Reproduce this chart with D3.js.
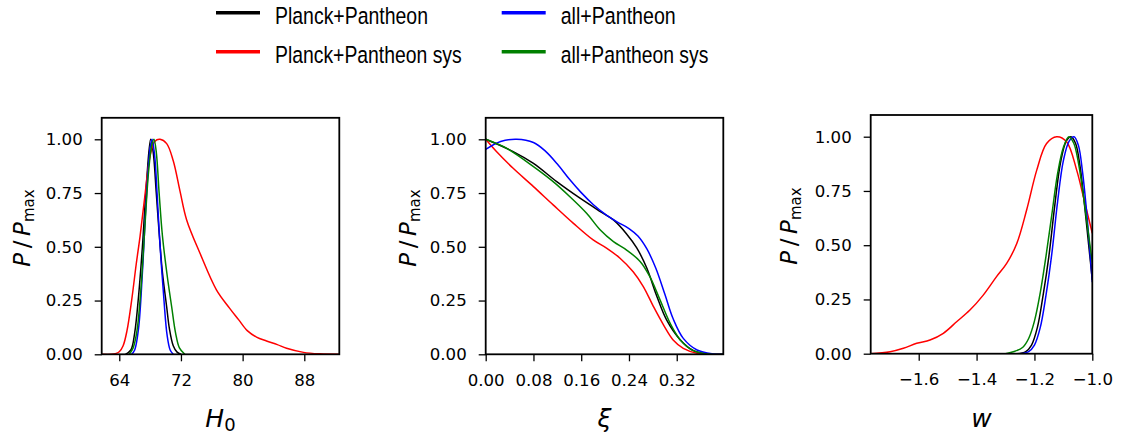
<!DOCTYPE html>
<html>
<head>
<meta charset="utf-8">
<script src="https://cdn.jsdelivr.net/npm/d3@7"></script>
<style>
  body { margin: 0; background: #fff; }
  .tick text, .axis-label { font-family: "DejaVu Sans", sans-serif; fill: #000; }
  .legend-label { font-family: "Liberation Sans Narrow", "Liberation Sans", Arial, sans-serif; fill: #000; }
</style>
</head>
<body>
<svg id="chart"></svg>
<script>
// ---- data ----
const seriesNames = ["Planck+Pantheon", "Planck+Pantheon sys", "all+Pantheon", "all+Pantheon sys"];

const h0Planck = [[64.8,0],[65.5,0.02],[66.0,0.1],[66.5,0.27],[67.0,0.5],[67.5,0.78],[68.07,1.0],[68.4,0.94],[68.8,0.75],[69.2,0.55],[69.6,0.38],[70.15,0.22],[70.5,0.12],[71.0,0.04],[71.5,0.01],[72.0,0]];
const h0PlanckSys = [[61.7,0],[63.0,0],[63.5,0.003],[64.0,0.012],[64.5,0.04],[65.0,0.11],[65.6,0.25],[66.2,0.42],[66.7,0.55],[67.3,0.73],[67.98,0.92],[68.6,0.99],[69.28,1.0],[70.15,0.98],[71.0,0.9],[71.87,0.76],[72.74,0.625],[74.47,0.47],[76.6,0.3],[78.3,0.215],[79.5,0.16],[80.6,0.11],[81.8,0.08],[83.1,0.062],[84.5,0.045],[85.7,0.028],[87.9,0.009],[90.0,0.002],[92.5,0]];
const h0All = [[65.6,0],[66.0,0.02],[66.5,0.12],[67.0,0.38],[67.5,0.72],[68.0,0.96],[68.25,1.0],[68.6,0.92],[68.9,0.75],[69.3,0.5],[69.8,0.25],[70.2,0.09],[70.6,0.02],[71.0,0]];
const h0AllSys = [[65.3,0],[65.8,0.03],[66.3,0.11],[66.8,0.3],[67.3,0.58],[67.8,0.85],[68.2,0.97],[68.5,1.0],[68.8,0.94],[69.17,0.75],[69.6,0.55],[70.2,0.37],[70.8,0.22],[71.3,0.1],[71.8,0.03],[72.5,0]];

const xiPlanck = [[0,1.0],[0.046,0.943],[0.08,0.888],[0.119,0.803],[0.158,0.726],[0.192,0.664],[0.214,0.625],[0.236,0.56],[0.253,0.495],[0.27,0.4],[0.286,0.275],[0.303,0.16],[0.326,0.067],[0.348,0.017],[0.37,0.002],[0.398,0]];
const xiPlanckSys = [[0,1.0],[0.018,0.943],[0.046,0.865],[0.08,0.78],[0.113,0.695],[0.147,0.609],[0.18,0.532],[0.203,0.493],[0.225,0.447],[0.247,0.384],[0.264,0.315],[0.281,0.222],[0.298,0.136],[0.314,0.067],[0.331,0.028],[0.354,0.005],[0.376,0],[0.398,0]];
const xiAll = [[0,0.953],[0.025,0.99],[0.052,1.0],[0.08,0.985],[0.1,0.945],[0.12,0.885],[0.14,0.815],[0.16,0.752],[0.18,0.697],[0.2,0.652],[0.22,0.616],[0.24,0.585],[0.255,0.55],[0.27,0.49],[0.285,0.4],[0.3,0.28],[0.314,0.165],[0.331,0.074],[0.354,0.02],[0.381,0.002],[0.398,0]];
const xiAllSys = [[0,1.0],[0.035,0.958],[0.08,0.873],[0.113,0.803],[0.141,0.733],[0.169,0.656],[0.192,0.578],[0.214,0.524],[0.236,0.485],[0.259,0.431],[0.275,0.361],[0.292,0.253],[0.309,0.144],[0.326,0.067],[0.348,0.017],[0.376,0],[0.398,0]];

const wPlanck = [[-1.26,0],[-1.23,0.01],[-1.21,0.04],[-1.19,0.12],[-1.17,0.27],[-1.15,0.45],[-1.13,0.68],[-1.11,0.88],[-1.09,0.98],[-1.074,1.0],[-1.058,0.97],[-1.042,0.86],[-1.028,0.7],[-1.014,0.52],[-1.0,0.34]];
const wPlanckSys = [[-1.768,0],[-1.699,0.009],[-1.653,0.025],[-1.607,0.048],[-1.561,0.063],[-1.515,0.094],[-1.469,0.147],[-1.423,0.201],[-1.377,0.27],[-1.331,0.355],[-1.296,0.416],[-1.261,0.508],[-1.227,0.662],[-1.192,0.846],[-1.158,0.969],[-1.123,1.0],[-1.089,0.977],[-1.054,0.846],[-1.031,0.724],[-1.0,0.555]];
const wAll = [[-1.25,0],[-1.22,0.01],[-1.2,0.04],[-1.18,0.12],[-1.16,0.27],[-1.14,0.46],[-1.12,0.7],[-1.1,0.89],[-1.08,0.98],[-1.063,1.0],[-1.048,0.96],[-1.034,0.84],[-1.02,0.66],[-1.01,0.5],[-1.0,0.33]];
const wAllSys = [[-1.3,0],[-1.27,0.01],[-1.24,0.03],[-1.22,0.07],[-1.2,0.15],[-1.18,0.28],[-1.16,0.45],[-1.14,0.64],[-1.12,0.83],[-1.1,0.95],[-1.081,1.0],[-1.064,0.97],[-1.048,0.88],[-1.032,0.74],[-1.016,0.58],[-1.0,0.42]];

const h0Ticks = [64, 72, 80, 88];
const xiTicks = [0, 0.08, 0.16, 0.24, 0.32];
const wTicks = [-1.6, -1.4, -1.2, -1.0];
const pTicks = [0, 0.25, 0.5, 0.75, 1.0];

// ---- styles / layout ----
const colors = ["#000000", "#ff0000", "#0000ff", "#008000"];
const W = 1128, H = 441;

const panels = [
  { left: 101.7, right: 339.3, top: 117.8, bottom: 354.3, xDomain: [61.72, 92.54], ticks: h0Ticks, fmt: d3.format("d"),
    series: [h0Planck, h0PlanckSys, h0All, h0AllSys], xlabel: "H0", ylabX: 30, ylabY: 228 },
  { left: 485.7, right: 723.3, top: 117.8, bottom: 354.3, xDomain: [0, 0.398], ticks: xiTicks, fmt: d3.format(".2f"),
    series: [xiPlanck, xiPlanckSys, xiAll, xiAllSys], xlabel: "xi", ylabX: 416, ylabY: 228 },
  { left: 870.7, right: 1092.3, top: 115.0, bottom: 353.7, xDomain: [-1.766, -1.0], ticks: wTicks, fmt: d3.format(".1f"),
    series: [wPlanck, wPlanckSys, wAll, wAllSys], xlabel: "w", ylabX: 796.7, ylabY: 226 }
];

const svg = d3.select("#chart").attr("width", W).attr("height", H);
svg.append("rect").attr("width", W).attr("height", H).attr("fill", "#fff");

panels.forEach((p, i) => {
  const x = d3.scaleLinear().domain(p.xDomain).range([p.left, p.right]);
  const y = d3.scaleLinear().domain([0, 1.1]).range([p.bottom, p.top]);

  const clipId = "clip" + i;
  svg.append("clipPath").attr("id", clipId)
    .append("rect")
    .attr("x", p.left).attr("y", p.top)
    .attr("width", p.right - p.left).attr("height", p.bottom - p.top);

  const line = d3.line()
    .x(d => x(d[0]))
    .y(d => y(d[1]))
    .curve(d3.curveCatmullRom.alpha(0.5));

  const g = svg.append("g").attr("clip-path", `url(#${clipId})`);
  p.series.forEach((s, k) => {
    g.append("path")
      .datum(s)
      .attr("d", line)
      .attr("fill", "none")
      .attr("stroke", colors[k])
      .attr("stroke-width", 1.5);
  });

  // axes
  const xAxis = svg.append("g")
    .attr("transform", `translate(0,${p.bottom})`)
    .call(d3.axisBottom(x).tickValues(p.ticks).tickFormat(p.fmt).tickSize(7).tickPadding(13));
  const yAxis = svg.append("g")
    .attr("transform", `translate(${p.left},0)`)
    .call(d3.axisLeft(y).tickValues(pTicks).tickFormat(d3.format(".2f")).tickSize(7).tickPadding(12));
  [xAxis, yAxis].forEach(a => {
    a.select(".domain").remove();
    a.selectAll(".tick line").attr("stroke", "#000").attr("stroke-width", 1.3);
    a.selectAll(".tick text").attr("font-size", 16.6);
  });

  // frame
  svg.append("rect")
    .attr("x", p.left).attr("y", p.top)
    .attr("width", p.right - p.left).attr("height", p.bottom - p.top)
    .attr("fill", "none").attr("stroke", "#000").attr("stroke-width", 1.8);

  // x label
  const cx = (p.left + p.right) / 2;
  const xl = svg.append("text")
    .attr("class", "axis-label")
    .attr("x", cx).attr("y", p.bottom + 73)
    .attr("text-anchor", "middle")
    .attr("font-size", 25);
  if (p.xlabel === "H0") {
    xl.append("tspan").attr("font-style", "italic").text("H");
    xl.append("tspan").attr("font-size", 18).attr("dy", 4).text("0");
  } else if (p.xlabel === "xi") {
    xl.append("tspan").attr("font-style", "italic").text("ξ");
  } else {
    xl.append("tspan").attr("font-style", "italic").text("w");
  }

  // y label
  const yl = svg.append("text")
    .attr("class", "axis-label")
    .attr("transform", `translate(${p.ylabX},${p.ylabY}) rotate(-90)`)
    .attr("text-anchor", "middle")
    .attr("font-size", 23);
  yl.append("tspan").attr("font-style", "italic").text("P");
  yl.append("tspan").text("\u2009/\u2009");
  yl.append("tspan").attr("font-style", "italic").text("P");
  yl.append("tspan").attr("font-size", 15).attr("dy", 4).text("max");
});

// ---- legend ----
const legendItems = [
  { col: 0, row: 0, w: 153 },
  { col: 0, row: 1, w: 186.7 },
  { col: 1, row: 0, w: 115 },
  { col: 1, row: 1, w: 147.6 }
];
const colX = [216, 501.7];
const rowY = [12.7, 51.7];
legendItems.forEach((it, k) => {
  const lx = colX[it.col], ly = rowY[it.row];
  svg.append("line")
    .attr("x1", lx).attr("x2", lx + 44)
    .attr("y1", ly).attr("y2", ly)
    .attr("stroke", colors[k]).attr("stroke-width", 3.4);
  svg.append("text")
    .attr("class", "legend-label")
    .attr("x", lx + 59).attr("y", ly + 10.8)
    .attr("font-size", 24.5)
    .attr("textLength", it.w)
    .attr("lengthAdjust", "spacingAndGlyphs")
    .text(seriesNames[k]);
});
</script>
</body>
</html>
